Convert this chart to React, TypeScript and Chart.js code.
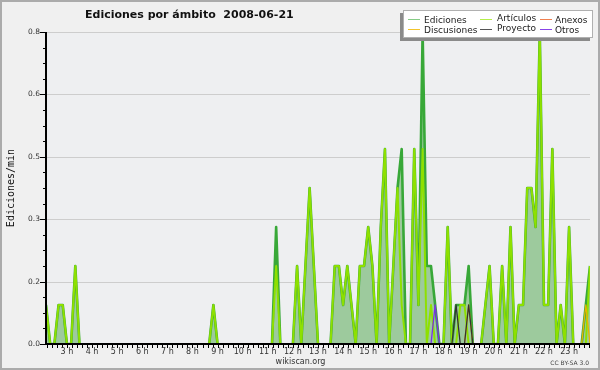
import React, { useEffect, useRef } from "react";
import { Chart, registerables } from "chart.js";

Chart.register(...registerables);

// Time axis: 10-minute bins from 2:10 to 23:50 (hours)
const startHour = 2 + 10 / 60;
const stepHours = 10 / 60;
const hourLabels = [3, 4, 5, 6, 7, 8, 9, 10, 11, 12, 13, 14, 15, 16, 17, 18, 19, 20, 21, 22, 23];
const yMax = 0.8;
const yGridStep = 0.16;
const yMinorStep = 0.04;
const xMinorStep = 0.2;

const ediciones = [
  0.1, 0, 0, 0.1, 0.1, 0, 0, 0.2, 0, 0,
  0, 0, 0, 0, 0, 0, 0, 0, 0, 0,
  0, 0, 0, 0, 0, 0, 0, 0, 0, 0,
  0, 0, 0, 0, 0, 0, 0, 0, 0, 0,
  0.1, 0, 0, 0, 0, 0, 0, 0, 0, 0,
  0, 0, 0, 0, 0, 0.3, 0, 0, 0, 0,
  0.2, 0, 0.2, 0.4, 0.2, 0, 0, 0, 0, 0.2,
  0.2, 0.1, 0.2, 0.1, 0, 0.2, 0.2, 0.3, 0.2, 0,
  0.3, 0.5, 0, 0.2, 0.4, 0.5, 0, 0, 0.5, 0.1,
  0.8, 0.2, 0.2, 0.1, 0, 0, 0.3, 0, 0.1, 0.1,
  0.1, 0.2, 0, 0, 0, 0.1, 0.2, 0, 0, 0.2,
  0, 0.3, 0, 0.1, 0.1, 0.4, 0.4, 0.3, 0.8, 0.1,
  0.1, 0.5, 0, 0.1, 0, 0.3, 0, 0, 0, 0.1,
  0.2,
];

const articulos = [
  0.1, 0, 0, 0.1, 0.1, 0, 0, 0.2, 0, 0,
  0, 0, 0, 0, 0, 0, 0, 0, 0, 0,
  0, 0, 0, 0, 0, 0, 0, 0, 0, 0,
  0, 0, 0, 0, 0, 0, 0, 0, 0, 0,
  0.1, 0, 0, 0, 0, 0, 0, 0, 0, 0,
  0, 0, 0, 0, 0, 0.2, 0, 0, 0, 0,
  0.2, 0, 0.2, 0.4, 0.2, 0, 0, 0, 0, 0.2,
  0.2, 0.1, 0.2, 0.1, 0, 0.2, 0.2, 0.3, 0.2, 0,
  0.3, 0.5, 0, 0.2, 0.4, 0.1, 0, 0, 0.5, 0.1,
  0.5, 0, 0.1, 0, 0, 0, 0.3, 0, 0, 0.1,
  0.1, 0, 0, 0, 0, 0.1, 0.2, 0, 0, 0.2,
  0, 0.3, 0, 0.1, 0.1, 0.4, 0.4, 0.3, 0.8, 0.1,
  0.1, 0.5, 0, 0.1, 0, 0.3, 0, 0, 0, 0,
  0.2,
];

const anexos = new Array(131).fill(0);

const discusiones = [
  0, 0, 0, 0, 0, 0, 0, 0, 0, 0,
  0, 0, 0, 0, 0, 0, 0, 0, 0, 0,
  0, 0, 0, 0, 0, 0, 0, 0, 0, 0,
  0, 0, 0, 0, 0, 0, 0, 0, 0, 0,
  0, 0, 0, 0, 0, 0, 0, 0, 0, 0,
  0, 0, 0, 0, 0, 0, 0, 0, 0, 0,
  0, 0, 0, 0, 0, 0, 0, 0, 0, 0,
  0, 0, 0, 0, 0, 0, 0, 0, 0, 0,
  0, 0, 0, 0, 0, 0, 0, 0, 0, 0,
  0, 0, 0, 0, 0, 0, 0, 0, 0, 0,
  0, 0.1, 0, 0, 0, 0, 0, 0, 0, 0,
  0, 0, 0, 0, 0, 0, 0, 0, 0, 0,
  0, 0, 0, 0, 0, 0, 0, 0, 0, 0.1,
  0,
];

const proyecto = [
  0, 0, 0, 0, 0, 0, 0, 0, 0, 0,
  0, 0, 0, 0, 0, 0, 0, 0, 0, 0,
  0, 0, 0, 0, 0, 0, 0, 0, 0, 0,
  0, 0, 0, 0, 0, 0, 0, 0, 0, 0,
  0, 0, 0, 0, 0, 0, 0, 0, 0, 0,
  0, 0, 0, 0, 0, 0, 0, 0, 0, 0,
  0, 0, 0, 0, 0, 0, 0, 0, 0, 0,
  0, 0, 0, 0, 0, 0, 0, 0, 0, 0,
  0, 0, 0, 0, 0, 0, 0, 0, 0, 0,
  0, 0, 0, 0, 0, 0, 0, 0, 0.1, 0,
  0, 0.1, 0, 0, 0, 0, 0, 0, 0, 0,
  0, 0, 0, 0, 0, 0, 0, 0, 0, 0,
  0, 0, 0, 0, 0, 0, 0, 0, 0, 0,
  0,
];

const otros = [
  0, 0, 0, 0, 0, 0, 0, 0, 0, 0,
  0, 0, 0, 0, 0, 0, 0, 0, 0, 0,
  0, 0, 0, 0, 0, 0, 0, 0, 0, 0,
  0, 0, 0, 0, 0, 0, 0, 0, 0, 0,
  0, 0, 0, 0, 0, 0, 0, 0, 0, 0,
  0, 0, 0, 0, 0, 0, 0, 0, 0, 0,
  0, 0, 0, 0, 0, 0, 0, 0, 0, 0,
  0, 0, 0, 0, 0, 0, 0, 0, 0, 0,
  0, 0, 0, 0, 0, 0, 0, 0, 0, 0,
  0, 0, 0, 0.1, 0, 0, 0, 0, 0, 0,
  0, 0, 0, 0, 0, 0, 0, 0, 0, 0,
  0, 0, 0, 0, 0, 0, 0, 0, 0, 0,
  0, 0, 0, 0, 0, 0, 0, 0, 0, 0,
  0,
];

const legendLabels = ["Ediciones", "Artículos", "Anexos", "Discusiones", "Proyecto", "Otros"];
const titleText = "Ediciones por ámbito  2008-06-21";
const yAxisTitle = "Ediciones/min";

function toPoints(values: number[]) {
  return values.map((v, i) => {
    const prev = i > 0 ? values[i - 1] : 0;
    const next = i < values.length - 1 ? values[i + 1] : 0;
    const hidden = v === 0 && prev === 0 && next === 0;
    return { x: startHour + i * stepHours, y: hidden ? null : v };
  });
}

const legendStyle = [
  { color: "#86cc86", col: 0, row: 0 },
  { color: "#b4ee4a", col: 1, row: 0 },
  { color: "#f08050", col: 2, row: 0 },
  { color: "#f2c42c", col: 0, row: 1 },
  { color: "#555555", col: 1, row: 1 },
  { color: "#8844e8", col: 2, row: 1 },
];
const legendCols = [
  { sx: 408, tx: 424, dy: 0 },
  { sx: 480, tx: 497, dy: -2 },
  { sx: 540, tx: 555, dy: 0 },
];

const decor = {
  id: "decor",
  beforeDraw(chart: any) {
    const { ctx, chartArea: a } = chart;
    const y = chart.scales.y;
    ctx.save();
    ctx.fillStyle = "#f0f0f0";
    ctx.fillRect(0, 0, chart.width, chart.height);
    ctx.fillStyle = "#eeeff1";
    ctx.fillRect(a.left, a.top, a.right - a.left, a.bottom - a.top);
    ctx.strokeStyle = "#cdcdcd";
    ctx.lineWidth = 1;
    for (let k = 1; k * yGridStep <= yMax + 1e-9; k++) {
      const py = Math.round(y.getPixelForValue(k * yGridStep)) + 0.5;
      ctx.beginPath();
      ctx.moveTo(a.left, py);
      ctx.lineTo(a.right, py);
      ctx.stroke();
    }
    ctx.restore();
  },
  afterDraw(chart: any) {
    const { ctx, chartArea: a } = chart;
    const x = chart.scales.x;
    const y = chart.scales.y;
    ctx.save();
    // axes
    ctx.fillStyle = "#000";
    ctx.fillRect(a.left - 1, a.top, 2, a.bottom - a.top + 1);
    ctx.fillRect(a.left - 1, a.bottom - 1, a.right - a.left + 1, 2);
    // y ticks
    const nMinor = Math.round(yMax / yMinorStep);
    const perMajor = Math.round(yGridStep / yMinorStep);
    ctx.font = "7.5px 'DejaVu Sans'";
    ctx.textAlign = "right";
    ctx.textBaseline = "middle";
    for (let k = 0; k <= nMinor; k++) {
      const v = k * yMinorStep;
      const py = Math.round(y.getPixelForValue(v));
      const major = k % perMajor === 0;
      ctx.fillStyle = "#000";
      if (major) {
        ctx.fillRect(a.left - 6, py, 6, 1);
        ctx.fillStyle = "#333";
        ctx.fillText(v.toFixed(1), a.left - 6, py);
      } else {
        ctx.fillRect(a.left - 3, py, 3, 1);
      }
    }
    // x ticks
    const xEnd = startHour + (ediciones.length - 1) * stepHours;
    ctx.fillStyle = "#000";
    for (let k = Math.ceil(startHour / xMinorStep); k * xMinorStep <= xEnd + 1e-9; k++) {
      const px = Math.round(x.getPixelForValue(k * xMinorStep));
      ctx.fillRect(px, a.bottom, 1, 4);
    }
    ctx.font = "8px 'DejaVu Sans'";
    ctx.textAlign = "center";
    ctx.textBaseline = "alphabetic";
    ctx.fillStyle = "#333";
    hourLabels.forEach((h) => {
      const px = x.getPixelForValue(h);
      ctx.fillText(`${h} h`, px, 354);
    });
    // footer
    ctx.fillText("wikiscan.org", 300.5, 364);
    ctx.font = "6px 'DejaVu Sans'";
    ctx.textAlign = "right";
    ctx.fillStyle = "#444";
    ctx.fillText("CC BY-SA 3.0", 589, 365);
    // y title
    ctx.save();
    ctx.translate(11.5, (a.top + a.bottom) / 2);
    ctx.rotate(-Math.PI / 2);
    ctx.font = "10px 'DejaVu Sans Mono'";
    ctx.textAlign = "center";
    ctx.textBaseline = "middle";
    ctx.fillStyle = "#111";
    ctx.fillText(yAxisTitle, 0, 0);
    ctx.restore();
    // title
    ctx.font = "bold 11px 'DejaVu Sans'";
    ctx.textAlign = "left";
    ctx.textBaseline = "alphabetic";
    ctx.fillStyle = "#111";
    ctx.fillText(titleText, 85, 17.5);
    // legend
    ctx.fillStyle = "#8a8a8a";
    ctx.fillRect(400, 13, 3, 28);
    ctx.fillRect(400, 38, 190, 3);
    ctx.fillStyle = "#ffffff";
    ctx.fillRect(403, 10, 190, 28);
    ctx.strokeStyle = "#b0b0b0";
    ctx.lineWidth = 1;
    ctx.strokeRect(403.5, 10.5, 189, 27);
    ctx.font = "9px 'DejaVu Sans'";
    ctx.textAlign = "left";
    legendLabels.forEach((label, i) => {
      const st = legendStyle[i];
      const c = legendCols[st.col];
      const ly = 19.5 + st.row * 10;
      ctx.strokeStyle = st.color;
      ctx.beginPath();
      ctx.moveTo(c.sx, ly);
      ctx.lineTo(c.sx + 12, ly);
      ctx.stroke();
      ctx.fillStyle = "#222";
      ctx.fillText(label, c.tx, 23 + st.row * 10 + c.dy);
    });
    // frame
    ctx.strokeStyle = "#ababab";
    ctx.lineWidth = 2;
    ctx.strokeRect(1, 1, chart.width - 2, chart.height - 2);
    ctx.restore();
  },
};

export default function App() {
  const ref = useRef<HTMLCanvasElement>(null);
  useEffect(() => {
    document.body.style.margin = "0";
    const base = { pointRadius: 0, tension: 0, spanGaps: false, fill: false, borderJoinStyle: "round" };
    const chart = new Chart(ref.current as HTMLCanvasElement, {
      type: "line",
      data: {
        datasets: [
          { ...base, label: legendLabels[0], data: toPoints(ediciones), borderColor: "#38a838", backgroundColor: "rgb(157,202,157)", fill: "origin", borderWidth: 2.6, order: 6 },
          { ...base, label: legendLabels[1], data: toPoints(articulos), borderColor: "#8ee000", borderWidth: 2, order: 5 },
          { ...base, label: legendLabels[2], data: toPoints(anexos), borderColor: "#f08050", borderWidth: 1.3, order: 4 },
          { ...base, label: legendLabels[3], data: toPoints(discusiones), borderColor: "#e8b400", borderWidth: 1.3, order: 3 },
          { ...base, label: legendLabels[4], data: toPoints(proyecto), borderColor: "#333333", borderWidth: 1.3, order: 2 },
          { ...base, label: legendLabels[5], data: toPoints(otros), borderColor: "#7a30e8", borderWidth: 1.3, order: 1 },
        ] as any,
      },
      options: {
        responsive: false,
        animation: false,
        devicePixelRatio: 1,
        events: [],
        layout: { padding: { left: 46, right: 10, top: 32, bottom: 26 } },
        plugins: { legend: { display: false }, tooltip: { enabled: false }, title: { display: false } },
        scales: {
          x: { type: "linear", min: startHour, max: startHour + (ediciones.length - 1) * stepHours, display: false },
          y: { type: "linear", min: 0, max: yMax, display: false },
        },
      },
      plugins: [decor],
    });
    return () => chart.destroy();
  }, []);
  return (
    <div style={{ position: "absolute", left: 0, top: 0, width: 600, height: 370 }}>
      <canvas ref={ref} width={600} height={370} style={{ display: "block", width: 600, height: 370 }} />
    </div>
  );
}
